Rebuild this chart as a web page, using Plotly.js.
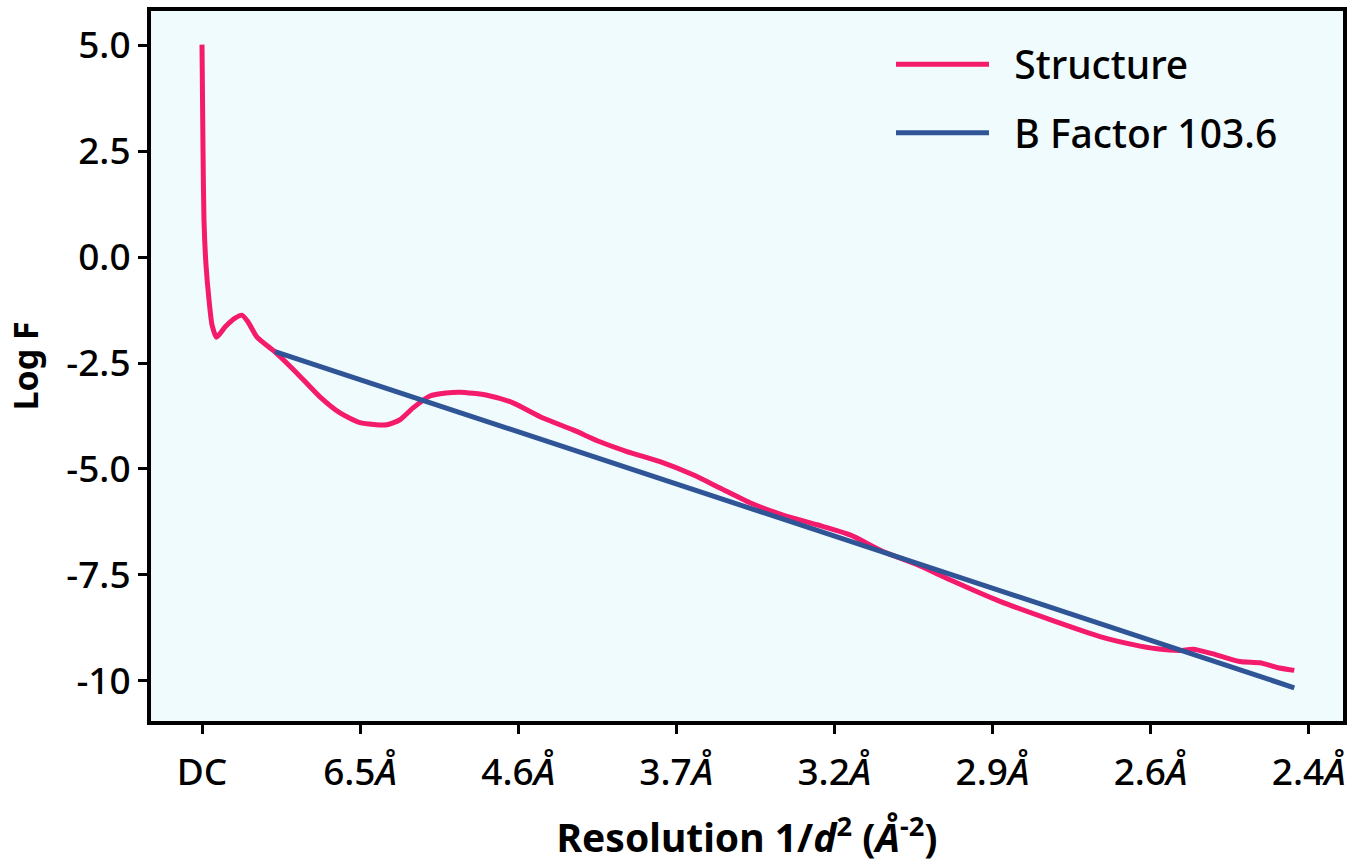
<!DOCTYPE html>
<html>
<head>
<meta charset="utf-8">
<script src="https://cdn.plot.ly/plotly-3.0.1.min.js"></script>
<style>html,body{margin:0;padding:0;background:#fff;}</style>
</head>
<body>
<div id="chart" style="width:1363px;height:863px;"></div>
<script>
// Resolution ticks (1/d^2, Å^-2) and their labels
var tickVals = [0, 0.0248, 0.0496, 0.0744, 0.0992, 0.124, 0.1488, 0.1736];
var tickLabels = ['DC', '6.5<i>Å</i>', '4.6<i>Å</i>', '3.7<i>Å</i>', '3.2<i>Å</i>', '2.9<i>Å</i>', '2.6<i>Å</i>', '2.4<i>Å</i>'];
var yTickVals = [5, 2.5, 0, -2.5, -5, -7.5, -10];
var yTickLabels = ['5.0', '2.5', '0.0', '-2.5', '-5.0', '-7.5', '-10'];

// Structure curve: resolution (1/d^2) and Log F
var structureX = [0, 0.00016, 0.00031, 0.00063, 0.0011, 0.00157, 0.00227, 0.00361, 0.00518, 0.00627,
  0.00722, 0.00863, 0.01161, 0.01490, 0.01850, 0.02165, 0.0248, 0.02902, 0.03105, 0.03311,
  0.03576, 0.03827, 0.04047, 0.04471, 0.04878, 0.05349, 0.05821, 0.06242, 0.06666, 0.07185,
  0.07703, 0.08124, 0.08596, 0.09114, 0.09647, 0.10166, 0.10681, 0.11215, 0.11733, 0.12517,
  0.13303, 0.14086, 0.14605, 0.14979, 0.15341, 0.15545, 0.15860, 0.16281, 0.16596, 0.16862, 0.17134];
var structureY = [5.02, 2.52, 0.87, -0.19, -1.01, -1.60, -1.89, -1.65, -1.44, -1.37,
  -1.53, -1.89, -2.26, -2.74, -3.30, -3.68, -3.91, -3.96, -3.84, -3.56,
  -3.28, -3.21, -3.19, -3.26, -3.44, -3.80, -4.08, -4.36, -4.59, -4.83,
  -5.14, -5.45, -5.80, -6.09, -6.32, -6.56, -6.95, -7.26, -7.62, -8.13,
  -8.56, -8.96, -9.15, -9.25, -9.29, -9.26, -9.37, -9.55, -9.58, -9.69, -9.76];

// B factor fit line
var bFactorX = [0.01145, 0.17134];
var bFactorY = [-2.23, -10.17];

var traces = [
  {x: structureX, y: structureY, type: 'scatter', mode: 'lines', name: '\u00A0\u00A0Structure', legendgroup: 'a',
   line: {color: '#F41A6C', width: 5, shape: 'spline', smoothing: 0.6}},
  {x: bFactorX, y: bFactorY, type: 'scatter', mode: 'lines', name: '\u00A0\u00A0B Factor 103.6', legendgroup: 'b',
   line: {color: '#2F5597', width: 5}}
];

var fontFam = '"Noto Sans", "Open Sans", sans-serif';
var layout = {
  width: 1363, height: 863,
  margin: {l: 151, r: 20, t: 10.5, b: 141.5},
  paper_bgcolor: '#ffffff',
  plot_bgcolor: '#F0FBFD',
  font: {family: fontFam, color: '#000', size: 36},
  showlegend: true,
  legend: {x: 0.6208, y: 0.970, xanchor: 'left', yanchor: 'top', bgcolor: 'rgba(0,0,0,0)',
    font: {family: fontFam, size: 39, color: '#000', weight: 500}, itemwidth: 93, tracegroupgap: 15, traceorder: 'grouped'},
  xaxis: {
    range: [-0.0080, 0.17898], tickmode: 'array', tickvals: tickVals, ticktext: tickLabels,
    showgrid: false, zeroline: false, showline: true, mirror: true, linecolor: '#000', linewidth: 4,
    ticks: 'outside', ticklen: 9, tickwidth: 3, tickcolor: '#000', ticklabelstandoff: 7,
    tickfont: {family: fontFam, size: 37, color: '#000', weight: 500},
    title: {text: '<b>Resolution 1/<i>d</i><sup>2</sup> (<i>Å</i><sup>-2</sup>)</b>', font: {family: fontFam, size: 39, color: '#000'}, standoff: 46}
  },
  yaxis: {
    range: [-10.955, 5.814], tickmode: 'array', tickvals: yTickVals, ticktext: yTickLabels,
    showgrid: false, zeroline: false, showline: true, mirror: true, linecolor: '#000', linewidth: 4,
    ticks: 'outside', ticklen: 9, tickwidth: 3, tickcolor: '#000',
    tickfont: {family: fontFam, size: 37, color: '#000', weight: 500},
    title: {text: '<b>Log F</b>', font: {family: fontFam, size: 34, color: '#000'}, standoff: 18}
  }
};

Plotly.newPlot('chart', traces, layout, {displayModeBar: false, staticPlot: true});
</script>
</body>
</html>
